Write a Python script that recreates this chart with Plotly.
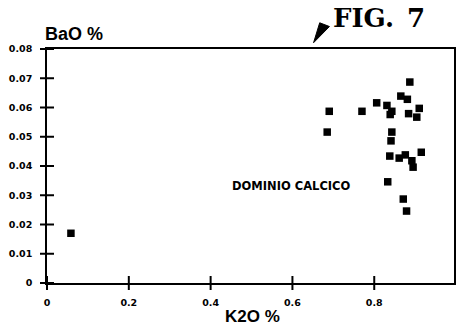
import plotly.graph_objects as go

# K2O % (x) and BaO % (y) values
k2o = [0.0585, 0.685, 0.690, 0.770, 0.806, 0.831, 0.843, 0.839, 0.865, 0.881,
       0.887, 0.884, 0.910, 0.904, 0.843, 0.841, 0.838, 0.861, 0.876, 0.892,
       0.895, 0.915, 0.833, 0.871, 0.879]
bao = [0.0170, 0.0516, 0.0587, 0.0587, 0.0616, 0.0607, 0.0587, 0.0576, 0.0639, 0.0628,
       0.0687, 0.0579, 0.0597, 0.0567, 0.0516, 0.0486, 0.0434, 0.0427, 0.0438, 0.0418,
       0.0396, 0.0447, 0.0346, 0.0287, 0.0246]

x_ticks = [0, 0.2, 0.4, 0.6, 0.8]
x_tick_labels = ["0", "0.2", "0.4", "0.6", "0.8"]
y_ticks = [0, 0.01, 0.02, 0.03, 0.04, 0.05, 0.06, 0.07, 0.08]
y_tick_labels = ["0", "0.01", "0.02", "0.03", "0.04", "0.05", "0.06", "0.07", "0.08"]

label_text = "DOMINIO CALCICO"
label_pos = (0.598, 0.0330)

fig = go.Figure()
fig.add_trace(go.Scatter(
    x=k2o, y=bao, mode="markers",
    marker=dict(symbol="square", size=7.5, color="black"),
    showlegend=False,
))
# tick crosses drawn as line markers on the axes
fig.add_trace(go.Scatter(
    x=x_ticks, y=[0] * len(x_ticks), mode="markers", cliponaxis=False,
    marker=dict(symbol="line-ns", size=10, color="black",
                line=dict(color="black", width=2)),
    showlegend=False, hoverinfo="skip",
))
fig.add_trace(go.Scatter(
    x=[0] * len(y_ticks), y=y_ticks, mode="markers", cliponaxis=False,
    marker=dict(symbol="line-ew", size=10, color="black",
                line=dict(color="black", width=2)),
    showlegend=False, hoverinfo="skip",
))

tickfont = dict(family="DejaVu Sans", size=9.5, color="black", weight="bold")

fig.update_layout(
    width=458, height=327,
    margin=dict(l=47, r=2, t=49, b=44),
    paper_bgcolor="white", plot_bgcolor="white",
    xaxis=dict(range=[0, 0.995], tickvals=x_ticks, ticktext=x_tick_labels,
               ticks="outside", ticklen=4, tickcolor="rgba(0,0,0,0)",
               showline=True, linecolor="black", linewidth=1.6,
               mirror=True, tickfont=tickfont, ticklabelstandoff=6,
               showgrid=False, zeroline=False),
    yaxis=dict(range=[0, 0.08], tickvals=y_ticks, ticktext=y_tick_labels,
               ticks="outside", ticklen=4, tickcolor="rgba(0,0,0,0)",
               showline=True, linecolor="black", linewidth=1.6,
               mirror=True, tickfont=tickfont, ticklabelstandoff=7,
               showgrid=False, zeroline=False),
)

bold_sans = dict(family="Liberation Sans, Arial", color="black", weight="bold")

fig.add_annotation(text="BaO %", xref="paper", yref="paper", x=-0.01, y=1.0,
                   xanchor="left", yanchor="bottom", yshift=3, showarrow=False,
                   font=dict(bold_sans, size=18))
fig.add_annotation(text="K2O %", xref="paper", yref="paper", x=0.505, y=0,
                   xanchor="center", yanchor="top", yshift=-22, showarrow=False,
                   font=dict(bold_sans, size=17))
fig.add_annotation(text=label_text, x=label_pos[0], y=label_pos[1],
                   showarrow=False,
                   font=dict(family="DejaVu Sans", size=11.5, color="black", weight="bold"))
fig.add_annotation(text="FIG.\u20027", xref="paper", yref="paper", x=0.699, y=1.131,
                   xanchor="left", yanchor="middle", showarrow=False,
                   font=dict(family="DejaVu Serif", size=26,
                             color="black", weight="bold"))
# arrow wedge pointing at the figure
fig.add_shape(type="path", xref="paper", yref="paper",
              path="M 0.655 1.027 L 0.670 1.112 L 0.694 1.096 Z",
              fillcolor="black", line=dict(color="black", width=1))

fig.write_html("out.html")
